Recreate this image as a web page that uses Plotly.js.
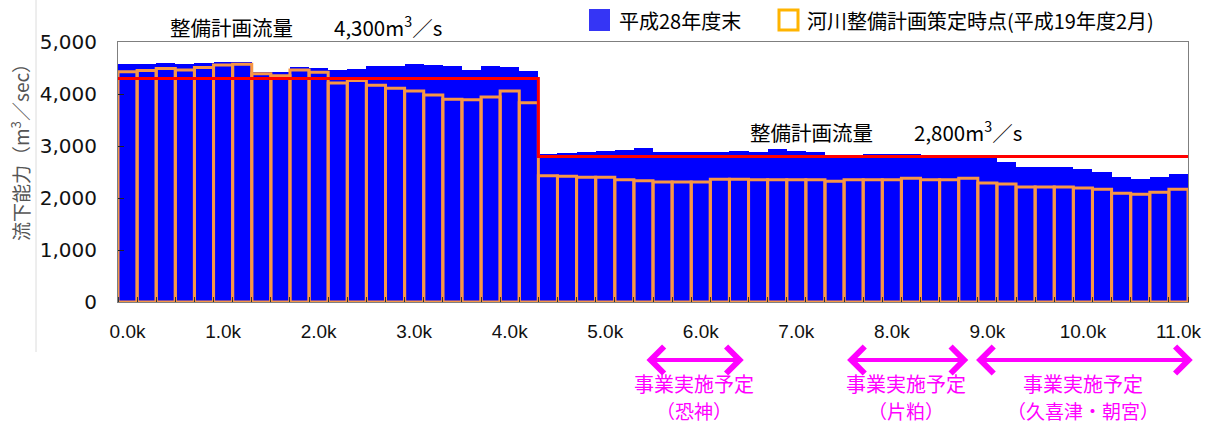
<!DOCTYPE html>
<html>
<head>
<meta charset="utf-8">
<script src="https://cdn.plot.ly/plotly-3.0.1.min.js"></script>
<style>
html,body{margin:0;padding:0;background:#fff;}
#chart{width:1218px;height:423px;}
</style>
</head>
<body>
<div id="chart"></div>
<script>
// distance along river (km), one bar per 0.2 km section
const distanceKm = [0.0,0.2,0.4,0.6,0.8,1.0,1.2,1.4,1.6,1.8,2.0,2.2,2.4,2.6,2.8,3.0,3.2,3.4,3.6,3.8,4.0,4.2,
  4.4,4.6,4.8,5.0,5.2,5.4,5.6,5.8,6.0,6.2,6.4,6.6,6.8,7.0,7.2,7.4,7.6,7.8,8.0,8.2,8.4,8.6,8.8,9.0,9.2,9.4,9.6,9.8,
  10.0,10.2,10.4,10.6,10.8,11.0];

// 平成28年度末 flow capacity (m3/s)
const capacityH28 = [4570,4570,4590,4570,4590,4610,4610,4430,4420,4520,4500,4470,4490,4540,4540,4570,4560,4540,4470,4540,4510,4440,
  2850,2870,2880,2910,2930,2960,2890,2890,2890,2890,2910,2890,2940,2900,2890,2830,2830,2850,2850,2840,2810,2800,2810,2760,
  2700,2590,2590,2590,2550,2500,2400,2370,2400,2460];

// 河川整備計画策定時点(平成19年度2月) flow capacity (m3/s)
const capacityH19 = [4430,4450,4490,4460,4510,4560,4570,4390,4350,4460,4420,4210,4260,4170,4110,4060,3980,3900,3890,3940,4060,3830,
  2430,2420,2400,2400,2350,2330,2310,2310,2310,2360,2360,2350,2350,2350,2350,2320,2350,2350,2350,2380,2350,2350,2380,2290,
  2270,2210,2210,2210,2190,2170,2090,2070,2110,2170];

const seriesNames = ['平成28年度末', '河川整備計画策定時点(平成19年度2月)'];

// 整備計画流量 sections
const planStartKm = [-0.1, 4.3];
const planEndKm = [4.3, 11.1];
const planFlow = [4300, 2800];

// x tick labels
const tickKm = [0,1,2,3,4,5,6,7,8,9,10,11];
const tickLabels = ['0.0k','1.0k','2.0k','3.0k','4.0k','5.0k','6.0k','7.0k','8.0k','9.0k','10.0k','11.0k'];

// 事業実施予定 ranges
const projectStartKm = [5.4, 7.5, 8.85];
const projectEndKm = [6.45, 8.8, 11.15];
const projectNames = ['（恐神）', '（片粕）', '（久喜津・朝宮）'];
const projectLabel = '事業実施予定';

const CJK = 'Noto Sans CJK JP, sans-serif';
const MAG = '#FF00FF';

// plan line built from sections (step)
const planX = [], planY = [];
planStartKm.forEach((s, i) => { planX.push(s, planEndKm[i]); planY.push(planFlow[i], planFlow[i]); });

const traces = [
  {type:'bar', x: distanceKm, y: capacityH28, name: seriesNames[0], width: 0.2,
   marker:{color:'#0000FF', line:{width:0}}},
  {type:'bar', x: distanceKm, y: capacityH19, name: seriesNames[1], width: 0.2,
   marker:{color:'rgba(0,0,0,0)', line:{color:'#F79646', width:3}}},
  {type:'scatter', mode:'lines', x: planX, y: planY, line:{color:'#FF0000', width:3}, name:'整備計画流量'}
];

const L = 118, R = 1188, T = 42, B = 302;
const px = v => (v - L) / (R - L);
const py = v => (B - v) / (B - T);

const annotations = [];
const shapes = [];

// plan flow labels
const planLabelPos = [[168, 26], [748, 131]];
planFlow.forEach((f, i) => {
  annotations.push({xref:'paper', yref:'paper', x: px(planLabelPos[i][0]), y: py(planLabelPos[i][1]),
    xanchor:'left', yanchor:'middle', showarrow:false,
    text: '整備計画流量\u3000\u3000' + f.toLocaleString('en-US') + 'm<sup>3</sup>／s',
    font:{family: CJK, size: 20.5, color:'#000'}});
});

// y-axis title
annotations.push({xref:'paper', yref:'paper', x: px(20), y: py(148), textangle:-90,
  xanchor:'center', yanchor:'middle', showarrow:false,
  text:'流下能力（m<sup>3</sup>／sec）', font:{family: CJK, size: 19, color:'#555'}});

// custom legend
shapes.push({type:'rect', xref:'paper', yref:'paper', x0: px(589), x1: px(610), y0: py(31), y1: py(9),
  fillcolor:'#3535F5', line:{width:0}});
shapes.push({type:'rect', xref:'paper', yref:'paper', x0: px(779), x1: px(798), y0: py(30), y1: py(10),
  fillcolor:'#FFFFFF', line:{color:'#FFB400', width:3}});
annotations.push({xref:'paper', yref:'paper', x: px(617), y: py(20), xanchor:'left', yanchor:'middle',
  showarrow:false, text: seriesNames[0], font:{family: CJK, size: 20, color:'#000'}});
annotations.push({xref:'paper', yref:'paper', x: px(805), y: py(20), xanchor:'left', yanchor:'middle',
  showarrow:false, text: seriesNames[1], font:{family: CJK, size: 20, color:'#000'}});

// faint frame line at left
shapes.push({type:'line', xref:'paper', yref:'paper', x0: px(36), x1: px(36), y0: py(352), y1: py(0),
  line:{color:'#dcdcdc', width:1}});

// project arrows and labels
projectStartKm.forEach((s, i) => {
  const e = projectEndKm[i];
  annotations.push({xref:'x', yref:'paper', x: e, y: py(360), axref:'x', ayref:'pixel', ax: s, ay: 0,
    text:' ', showarrow:true, arrowside:'end+start', arrowhead:4, startarrowhead:4,
    arrowwidth:4, arrowsize:1.3, startarrowsize:1.3, arrowcolor: MAG, standoff:0, startstandoff:0});
  const c = (s + e) / 2;
  annotations.push({xref:'x', yref:'paper', x: c, y: py(383), xanchor:'center', yanchor:'middle',
    showarrow:false, text: projectLabel, font:{family: CJK, size: 20, color: MAG}});
  annotations.push({xref:'x', yref:'paper', x: c, y: py(410), xanchor:'center', yanchor:'middle',
    showarrow:false, text: projectNames[i], font:{family: CJK, size: 19, color: MAG}});
});

const layout = {
  width: 1218, height: 423,
  margin: {l: L, r: 1218 - R, t: T, b: 423 - B},
  paper_bgcolor:'#FFFFFF', plot_bgcolor:'#FFFFFF',
  barmode:'overlay', bargap:0, showlegend:false,
  xaxis: {range:[-0.1, 11.1], tickmode:'array', tickvals: tickKm, ticktext: tickLabels,
    ticks:'', showgrid:false, zeroline:false, showline:true, mirror:true, linecolor:'#7f7f7f', linewidth:1,
    tickfont:{family:'Liberation Sans, Arial, sans-serif', size:19, color:'#111'}, ticklabelstandoff: 12,
    minor:{tickmode:'linear', tick0:0.1, dtick:0.2, ticks:'inside', ticklen:5, tickcolor:'#333', tickwidth:1, showgrid:false}},
  yaxis: {range:[0, 5000], dtick:1000, tickformat:',d', ticks:'inside', ticklen:6, tickcolor:'#222',
    showgrid:false, zeroline:false, showline:true, mirror:true, linecolor:'#7f7f7f', linewidth:1,
    tickfont:{family:'DejaVu Sans, sans-serif', size:20, color:'#111'}, ticklabelstandoff: 16},
  annotations, shapes
};

Plotly.newPlot('chart', traces, layout, {staticPlot:true, displayModeBar:false});
</script>
</body>
</html>
